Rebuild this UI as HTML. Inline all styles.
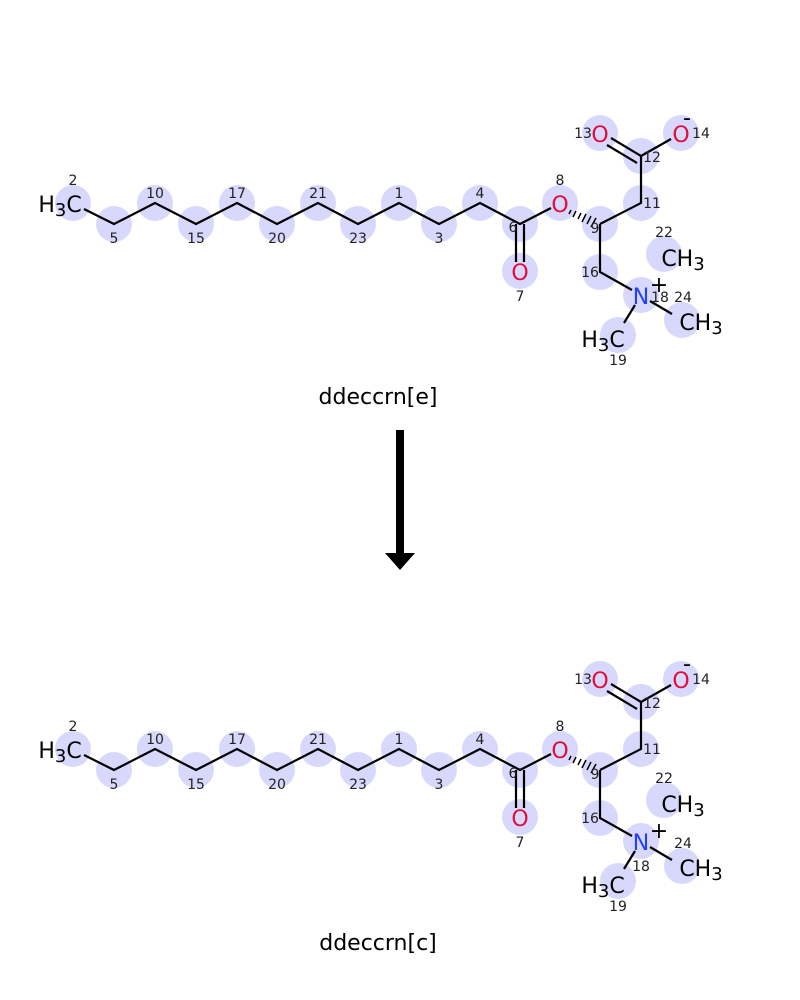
<!DOCTYPE html>
<html><head><style>
body{margin:0;background:#fff}
svg{display:block}
.n{font:14px "DejaVu Sans","Liberation Sans",sans-serif;fill:#222;text-anchor:middle}
.a{font:22px "DejaVu Sans","Liberation Sans",sans-serif;text-anchor:middle}
.t{font:22px "DejaVu Sans","Liberation Sans",sans-serif;text-anchor:middle;fill:#000}
</style></head><body>
<svg width="800" height="1000" viewBox="0 0 800 1000" xmlns="http://www.w3.org/2000/svg">
<rect width="800" height="1000" fill="#fff"/>
<g id="m1">
<g fill="#d8d8fc">
<circle cx="73" cy="203" r="18"/><circle cx="114" cy="224" r="18"/><circle cx="155" cy="203" r="18"/><circle cx="196" cy="224" r="18"/><circle cx="237" cy="203" r="18"/><circle cx="277" cy="224" r="18"/><circle cx="318" cy="203" r="18"/><circle cx="358" cy="224" r="18"/><circle cx="399" cy="203" r="18"/><circle cx="439" cy="224" r="18"/><circle cx="480" cy="203" r="18"/><circle cx="520" cy="224" r="18"/><circle cx="520" cy="271" r="18"/><circle cx="560" cy="203" r="18"/><circle cx="600" cy="224" r="18"/><circle cx="641" cy="203" r="18"/><circle cx="641" cy="156" r="18"/><circle cx="600" cy="133" r="18"/><circle cx="681" cy="133" r="18"/><circle cx="600" cy="272" r="18"/><circle cx="641" cy="295" r="18"/><circle cx="664" cy="254" r="18"/><circle cx="682" cy="320" r="18"/><circle cx="618" cy="335" r="18"/>
</g>
<g stroke="#000" stroke-width="2.2" fill="none">
<polyline points="84,209 114,224 155,203 196,224 237,203 277,224 318,203 358,224 399,203 439,224 480,203 520,224 551,208"/>
<line x1="516" y1="224" x2="516" y2="262"/><line x1="524" y1="224" x2="524" y2="262"/>
<polyline points="600,224 641,203 641,156"/>
<line x1="641" y1="156" x2="611" y2="138"/><line x1="637" y1="163" x2="607" y2="145"/>
<line x1="641" y1="156" x2="671" y2="139"/>
<polyline points="600,224 600,272 632,290"/>
<line x1="650" y1="301" x2="672" y2="314"/>
<line x1="635" y1="305" x2="624" y2="323"/>
</g>
<g stroke="#000" stroke-width="1.5">
<line x1="571" y1="210" x2="569" y2="214"/><line x1="576" y1="211" x2="573" y2="217"/><line x1="581" y1="213" x2="578" y2="219"/><line x1="586" y1="214" x2="582" y2="222"/><line x1="591" y1="216" x2="587" y2="224"/><line x1="596" y1="218" x2="591" y2="227"/>
</g>
<text class="t" x="60" y="212">H<tspan font-size="18" dy="4">3</tspan><tspan dy="-4">C</tspan></text>
<text class="a" x="520" y="280" fill="#e0103a">O</text>
<text class="a" x="560" y="212" fill="#e0103a">O</text>
<text class="a" x="600" y="142" fill="#e0103a">O</text>
<text class="a" x="681" y="142" fill="#e0103a">O</text>
<text class="t" x="687" y="125" font-size="16">-</text>
<text class="a" x="641" y="304" fill="#2040ff">N</text>
<text class="t" x="659" y="292">+</text>
<text class="t" x="683" y="266">CH<tspan font-size="18" dy="4">3</tspan></text>
<text class="t" x="701" y="330">CH<tspan font-size="18" dy="4">3</tspan></text>
<text class="t" x="603" y="347">H<tspan font-size="18" dy="4">3</tspan><tspan dy="-4">C</tspan></text>
<text class="n" x="73" y="185">2</text><text class="n" x="114" y="243">5</text><text class="n" x="155" y="198">10</text><text class="n" x="196" y="243">15</text><text class="n" x="237" y="198">17</text><text class="n" x="277" y="243">20</text><text class="n" x="318" y="198">21</text><text class="n" x="358" y="243">23</text><text class="n" x="399" y="198">1</text><text class="n" x="439" y="243">3</text><text class="n" x="480" y="198">4</text><text class="n" x="513" y="232">6</text><text class="n" x="520" y="301">7</text><text class="n" x="560" y="185">8</text><text class="n" x="595" y="233">9</text><text class="n" x="652" y="208">11</text><text class="n" x="652" y="162">12</text><text class="n" x="583" y="138">13</text><text class="n" x="701" y="138">14</text><text class="n" x="590" y="277">16</text><text class="n" x="664" y="237">22</text><text class="n" x="683" y="302">24</text><text class="n" x="618" y="365">19</text>
<text class="n" x="660" y="302">18</text>
</g>
<text class="t" x="378" y="404">ddeccrn[e]</text>
<rect x="396" y="430" width="8" height="124" fill="#000"/>
<polygon points="385,553 415,553 400,570" fill="#000"/>
<g transform="translate(0,546)">
<g fill="#d8d8fc">
<circle cx="73" cy="203" r="18"/><circle cx="114" cy="224" r="18"/><circle cx="155" cy="203" r="18"/><circle cx="196" cy="224" r="18"/><circle cx="237" cy="203" r="18"/><circle cx="277" cy="224" r="18"/><circle cx="318" cy="203" r="18"/><circle cx="358" cy="224" r="18"/><circle cx="399" cy="203" r="18"/><circle cx="439" cy="224" r="18"/><circle cx="480" cy="203" r="18"/><circle cx="520" cy="224" r="18"/><circle cx="520" cy="271" r="18"/><circle cx="560" cy="203" r="18"/><circle cx="600" cy="224" r="18"/><circle cx="641" cy="203" r="18"/><circle cx="641" cy="156" r="18"/><circle cx="600" cy="133" r="18"/><circle cx="681" cy="133" r="18"/><circle cx="600" cy="272" r="18"/><circle cx="641" cy="295" r="18"/><circle cx="664" cy="254" r="18"/><circle cx="682" cy="320" r="18"/><circle cx="618" cy="335" r="18"/>
</g>
<g stroke="#000" stroke-width="2.2" fill="none">
<polyline points="84,209 114,224 155,203 196,224 237,203 277,224 318,203 358,224 399,203 439,224 480,203 520,224 551,208"/>
<line x1="516" y1="224" x2="516" y2="262"/><line x1="524" y1="224" x2="524" y2="262"/>
<polyline points="600,224 641,203 641,156"/>
<line x1="641" y1="156" x2="611" y2="138"/><line x1="637" y1="163" x2="607" y2="145"/>
<line x1="641" y1="156" x2="671" y2="139"/>
<polyline points="600,224 600,272 632,290"/>
<line x1="650" y1="301" x2="672" y2="314"/>
<line x1="635" y1="305" x2="624" y2="323"/>
</g>
<g stroke="#000" stroke-width="1.5">
<line x1="571" y1="210" x2="569" y2="214"/><line x1="576" y1="211" x2="573" y2="217"/><line x1="581" y1="213" x2="578" y2="219"/><line x1="586" y1="214" x2="582" y2="222"/><line x1="591" y1="216" x2="587" y2="224"/><line x1="596" y1="218" x2="591" y2="227"/>
</g>
<text class="t" x="60" y="212">H<tspan font-size="18" dy="4">3</tspan><tspan dy="-4">C</tspan></text>
<text class="a" x="520" y="280" fill="#e0103a">O</text>
<text class="a" x="560" y="212" fill="#e0103a">O</text>
<text class="a" x="600" y="142" fill="#e0103a">O</text>
<text class="a" x="681" y="142" fill="#e0103a">O</text>
<text class="t" x="687" y="125" font-size="16">-</text>
<text class="a" x="641" y="304" fill="#2040ff">N</text>
<text class="t" x="659" y="292">+</text>
<text class="t" x="683" y="266">CH<tspan font-size="18" dy="4">3</tspan></text>
<text class="t" x="701" y="330">CH<tspan font-size="18" dy="4">3</tspan></text>
<text class="t" x="603" y="347">H<tspan font-size="18" dy="4">3</tspan><tspan dy="-4">C</tspan></text>
<text class="n" x="73" y="185">2</text><text class="n" x="114" y="243">5</text><text class="n" x="155" y="198">10</text><text class="n" x="196" y="243">15</text><text class="n" x="237" y="198">17</text><text class="n" x="277" y="243">20</text><text class="n" x="318" y="198">21</text><text class="n" x="358" y="243">23</text><text class="n" x="399" y="198">1</text><text class="n" x="439" y="243">3</text><text class="n" x="480" y="198">4</text><text class="n" x="513" y="232">6</text><text class="n" x="520" y="301">7</text><text class="n" x="560" y="185">8</text><text class="n" x="595" y="233">9</text><text class="n" x="652" y="208">11</text><text class="n" x="652" y="162">12</text><text class="n" x="583" y="138">13</text><text class="n" x="701" y="138">14</text><text class="n" x="590" y="277">16</text><text class="n" x="664" y="237">22</text><text class="n" x="683" y="302">24</text><text class="n" x="618" y="365">19</text>
<text class="n" x="641" y="325">18</text>
</g>
<text class="t" x="378" y="950">ddeccrn[c]</text>
</svg>
</body></html>
